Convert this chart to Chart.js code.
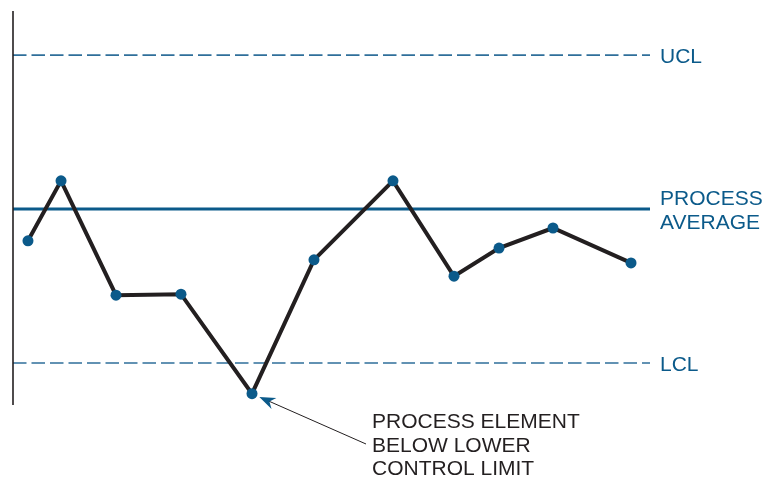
<!DOCTYPE html>
<html>
<head>
<meta charset="utf-8">
<script src="https://cdn.jsdelivr.net/npm/chart.js@4"></script>
<style>
html,body{margin:0;padding:0;background:#fff;}
canvas{display:block;}
</style>
</head>
<body>
<canvas id="c" width="767" height="479"></canvas>
<script>
// Sample positions (time units) and measured values (in sigma units from process average)
const sampleTimes = [2.35, 7.54, 16.17, 26.37, 37.52, 47.25, 59.65, 69.23, 76.30, 84.77, 97.02];
const sampleValues = [-0.62, 0.55, -1.68, -1.66, -3.60, -0.99, 0.55, -1.31, -0.76, -0.37, -1.05];
const limitNames = ['UCL', 'PROCESS AVERAGE', 'LCL'];
const limitLabels = [['UCL'], ['PROCESS', 'AVERAGE'], ['LCL']];
const limitValues = [3, 0, -3];
const timeRange = [0, 100];
const annotationLines = ['PROCESS ELEMENT', 'BELOW LOWER', 'CONTROL LIMIT'];
const annotatedIndex = 4;

const BLUE = '#0b5a8a';
const DARK = '#231f20';
const FONT = '"Liberation Sans", Arial, sans-serif';

const limitDatasets = limitValues.map((v, i) => ({
  label: limitNames[i],
  data: timeRange.map(t => ({x: t, y: v})),
  borderColor: i === 1 ? BLUE : '#2f6f9a',
  borderWidth: i === 1 ? 3 : 1.6,
  borderDash: i === 1 ? [] : [13.5, 5],
  pointRadius: 0,
  order: 2
}));

const overlay = {
  id: 'overlay',
  afterDraw(chart) {
    const ctx = chart.ctx;
    const a = chart.chartArea;
    const xs = chart.scales.x, ys = chart.scales.y;
    ctx.save();
    // vertical axis
    ctx.strokeStyle = DARK;
    ctx.lineWidth = 1.6;
    ctx.beginPath();
    ctx.moveTo(a.left, a.top);
    ctx.lineTo(a.left, a.bottom);
    ctx.stroke();
    // limit labels
    ctx.fillStyle = BLUE;
    ctx.font = '21px ' + FONT;
    ctx.textBaseline = 'alphabetic';
    limitValues.forEach((v, i) => {
      const y = ys.getPixelForValue(v);
      const lines = limitLabels[i];
      const lh = 23.5;
      const startBase = y + 8 - (lines.length - 1) * lh / 2;
      lines.forEach((t, k) => ctx.fillText(t, a.right + 10, startBase + k * lh));
    });
    // annotation
    ctx.fillStyle = DARK;
    annotationLines.forEach((t, k) => ctx.fillText(t, 372, 428 + k * 23.5));
    // arrow
    const px = xs.getPixelForValue(sampleTimes[annotatedIndex]);
    const py = ys.getPixelForValue(sampleValues[annotatedIndex]);
    const sx = 366, sy = 444;
    const ang = Math.atan2(py - sy, px - sx);
    const tipX = px - Math.cos(ang) * 8, tipY = py - Math.sin(ang) * 8;
    ctx.strokeStyle = DARK;
    ctx.lineWidth = 1;
    ctx.beginPath();
    ctx.moveTo(sx, sy);
    ctx.lineTo(tipX - Math.cos(ang) * 8, tipY - Math.sin(ang) * 8);
    ctx.stroke();
    // arrowhead
    ctx.fillStyle = BLUE;
    ctx.translate(tipX, tipY);
    ctx.rotate(ang);
    ctx.beginPath();
    ctx.moveTo(0, 0);
    ctx.lineTo(-16, -6);
    ctx.lineTo(-11, 0);
    ctx.lineTo(-16, 6);
    ctx.closePath();
    ctx.fill();
    ctx.restore();
  }
};

new Chart(document.getElementById('c'), {
  type: 'line',
  data: {
    datasets: [
      {
        label: 'Process',
        data: sampleTimes.map((t, i) => ({x: t, y: sampleValues[i]})),
        borderColor: DARK,
        borderWidth: 4,
        pointRadius: 5.5,
        pointBackgroundColor: BLUE,
        pointBorderColor: BLUE,
        pointBorderWidth: 0,
        tension: 0,
        order: 1
      },
      ...limitDatasets
    ]
  },
  options: {
    responsive: false,
    animation: false,
    clip: false,
    layout: {padding: {left: 13, top: 11, right: 117, bottom: 74}},
    plugins: {legend: {display: false}, tooltip: {enabled: false}},
    scales: {
      x: {type: 'linear', min: timeRange[0], max: timeRange[1], display: false},
      y: {type: 'linear', min: -3.82, max: 3.86, display: false}
    }
  },
  plugins: [overlay]
});
</script>
</body>
</html>
